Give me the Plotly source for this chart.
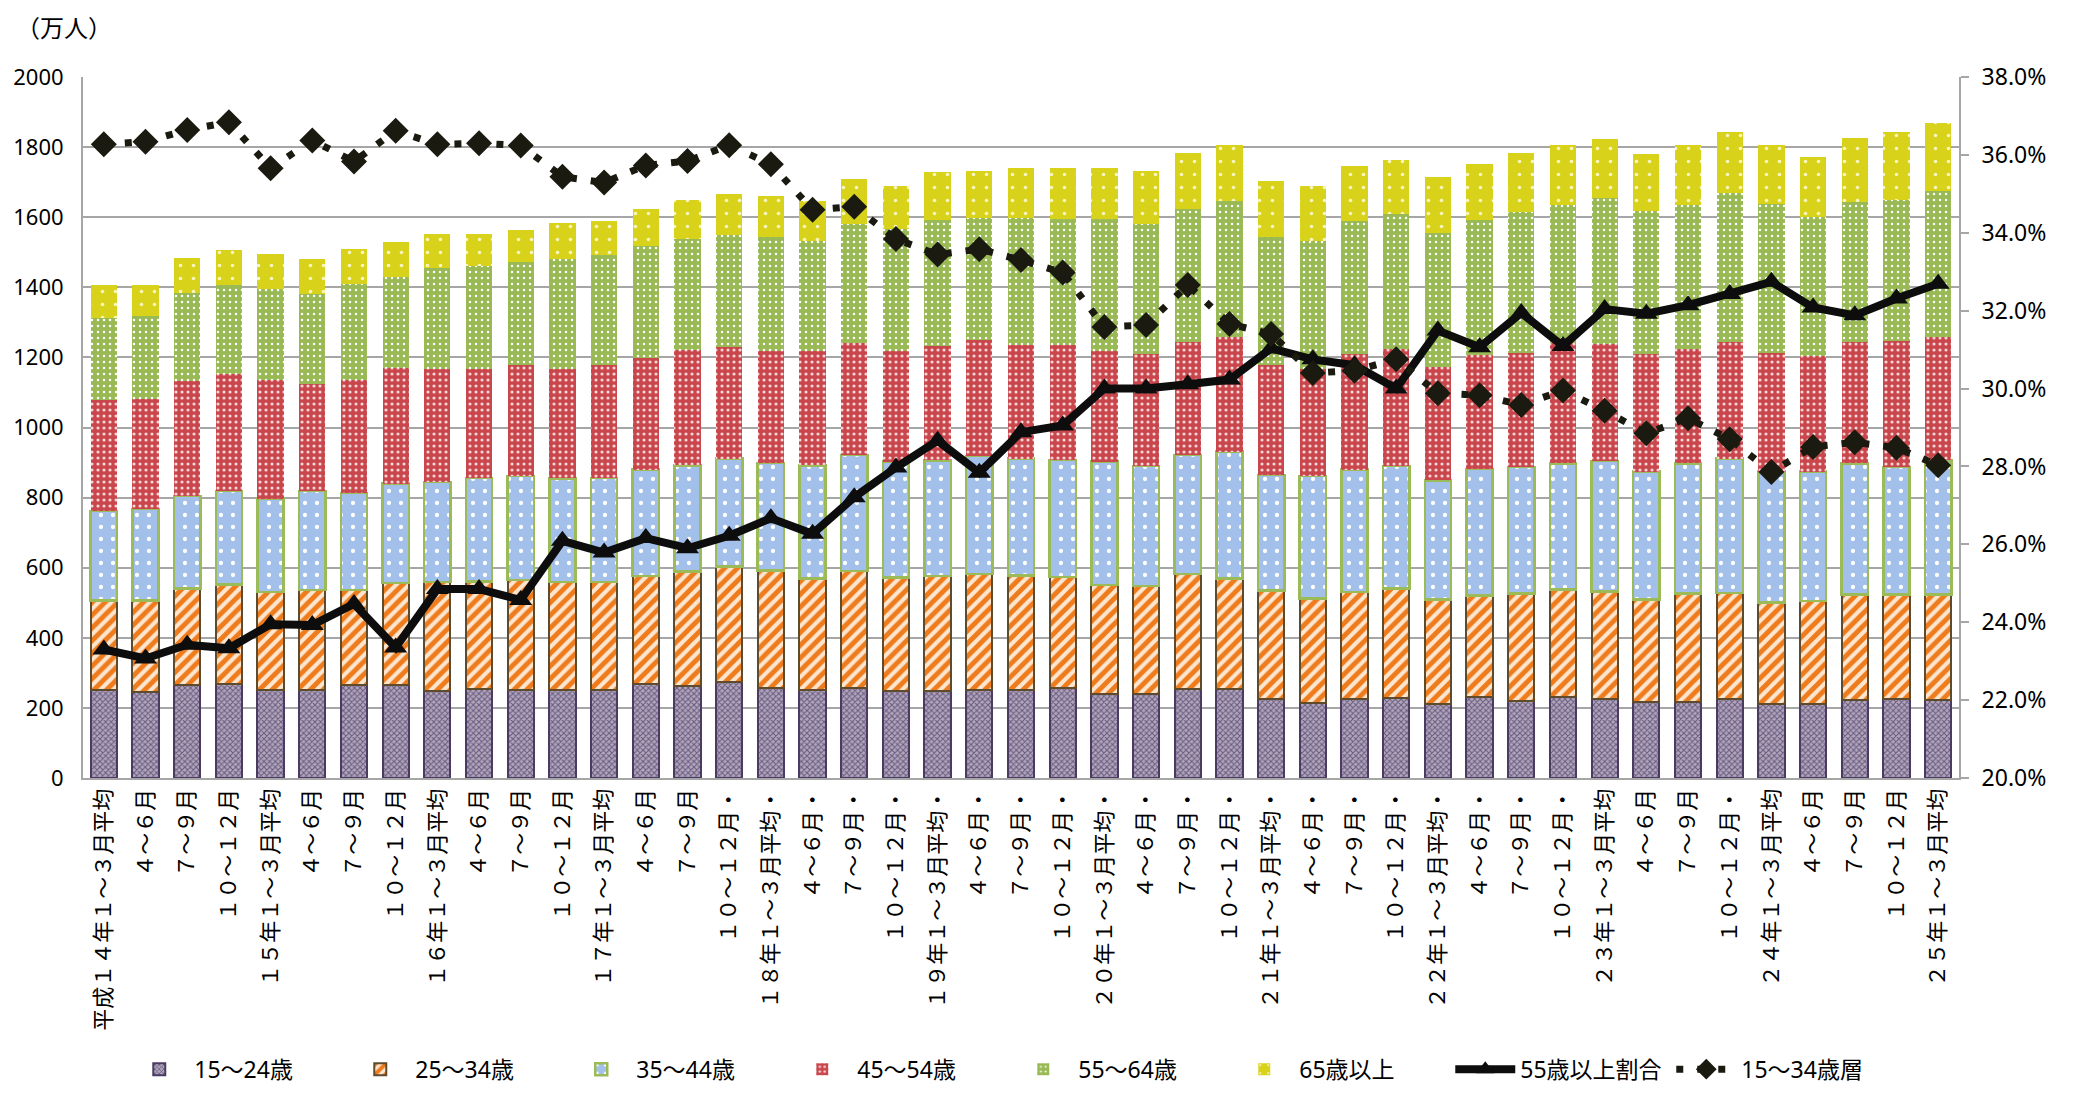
import plotly.graph_objects as go

# ── Category labels (quarterly, 平成14年1～3月 → 平成25年1～3月) ───────────────
LABELS = [
    "平成１４年１～３月平均", "４～６月", "７～９月", "１０～１２月",
    "１５年１～３月平均", "４～６月", "７～９月", "１０～１２月",
    "１６年１～３月平均", "４～６月", "７～９月", "１０～１２月",
    "１７年１～３月平均", "４～６月", "７～９月", "１０～１２月・",
    "１８年１～３月平均・", "４～６月・", "７～９月・", "１０～１２月・",
    "１９年１～３月平均・", "４～６月・", "７～９月・", "１０～１２月・",
    "２０年１～３月平均・", "４～６月・", "７～９月・", "１０～１２月・",
    "２１年１～３月平均・", "４～６月・", "７～９月・", "１０～１２月・",
    "２２年１～３月平均・", "４～６月・", "７～９月・", "１０～１２月・",
    "２３年１～３月平均", "４～６月", "７～９月", "１０～１２月・",
    "２４年１～３月平均", "４～６月", "７～９月", "１０～１２月",
    "２５年１～３月平均",
]

# ── Series values (万人) ──────────────────────────────────────────────────────
AGE_15_24 = [250, 246, 265, 267, 250, 250, 264, 266, 247, 254, 250, 252, 250, 268, 262,
             274, 256, 251, 256, 247, 247, 251, 251, 256, 241, 241, 254, 254, 225, 214,
             224, 228, 212, 232, 221, 232, 225, 218, 216, 225, 210, 212, 223, 225, 223]
AGE_25_34 = [257, 261, 275, 285, 280, 286, 272, 290, 312, 307, 315, 307, 309, 309, 327,
             330, 336, 318, 335, 325, 329, 331, 327, 317, 309, 307, 328, 315, 310, 298,
             307, 312, 297, 289, 305, 306, 307, 291, 310, 303, 291, 293, 300, 298, 300]
AGE_35_44 = [255, 260, 264, 267, 267, 283, 277, 284, 286, 295, 296, 296, 297, 303, 303,
             307, 307, 323, 330, 331, 330, 336, 333, 335, 353, 342, 340, 362, 330, 350,
             349, 350, 340, 361, 361, 360, 373, 365, 372, 383, 373, 369, 375, 364, 383]
AGE_45_54 = [316, 314, 329, 333, 338, 305, 323, 330, 321, 311, 318, 313, 323, 317, 329,
             318, 318, 325, 321, 314, 327, 333, 325, 328, 316, 320, 323, 326, 312, 306,
             329, 335, 325, 325, 325, 342, 333, 337, 327, 334, 338, 330, 347, 361, 353]
AGE_55_64 = [233, 238, 251, 255, 259, 257, 273, 259, 289, 295, 292, 313, 314, 322, 316,
             321, 326, 314, 340, 349, 359, 346, 361, 359, 376, 370, 378, 389, 367, 363,
             380, 383, 382, 386, 402, 395, 417, 407, 410, 423, 426, 397, 399, 400, 417]
AGE_65_OVER = [96, 88, 99, 99, 100, 101, 99, 100, 97, 90, 93, 103, 97, 105, 111,
               117, 118, 116, 126, 124, 137, 135, 142, 146, 146, 152, 159, 159, 159, 159,
               157, 156, 159, 159, 168, 170, 168, 161, 170, 175, 167, 171, 183, 195, 194]

# ── Ratios (%) on the right axis ─────────────────────────────────────────────
RATIO_55_OVER = [23.30, 23.07, 23.42, 23.33, 23.95, 23.93, 24.47, 23.35, 24.85, 24.85,
                 24.57, 26.09, 25.79, 26.16, 25.90, 26.22, 26.67, 26.27, 27.21, 27.97,
                 28.66, 27.84, 28.88, 29.05, 30.00, 30.00, 30.11, 30.23, 31.03, 30.75,
                 30.60, 30.00, 31.49, 31.06, 31.94, 31.09, 32.04, 31.92, 32.14, 32.43,
                 32.74, 32.08, 31.88, 32.31, 32.69]
RATIO_15_34 = [36.27, 36.34, 36.64, 36.84, 35.66, 36.37, 35.83, 36.62, 36.27, 36.30,
               36.24, 35.44, 35.29, 35.73, 35.84, 36.25, 35.76, 34.59, 34.67, 33.84,
               33.44, 33.58, 33.30, 32.98, 31.58, 31.63, 32.66, 31.66, 31.40, 30.40,
               30.46, 30.75, 29.88, 29.83, 29.58, 29.95, 29.43, 28.85, 29.24, 28.70,
               27.86, 28.50, 28.62, 28.48, 28.03]

NUM_FONT = "Noto Sans, Noto Sans CJK JP, sans-serif"
JP_FONT = "Noto Sans CJK JP, sans-serif"
GRID = "#a6a6a6"

x = list(range(len(LABELS)))

# name, values, pattern shape, bg, fg, pattern size, solidity, outline colour, outline width
BAR_STYLE = [
    ("15～24歳", AGE_15_24, "x", "#b1a7bd", "#6a5a7e", 4, 0.45, "#4b3b63", 2),
    ("25～34歳", AGE_25_34, "/", "#fde6d0", "#ee7b1c", 9, 0.55, "#5e4b2c", 2),
    ("35～44歳", AGE_35_44, ".", "#a2c0ea", "#ffffff", 12, 0.1, "#9bbb59", 2.5),
    ("45～54歳", AGE_45_54, ".", "#c9474c", "#f6d6d6", 6, 0.22, None, 0),
    ("55～64歳", AGE_55_64, ".", "#98b954", "#ffffff", 6, 0.14, None, 0),
    ("65歳以上", AGE_65_OVER, ".", "#d8d31a", "#f8f5c0", 13, 0.06, None, 0),
]

fig = go.Figure()

for name, vals, shape, bg, fg, psize, solid, edge, ew in BAR_STYLE:
    fig.add_trace(go.Bar(
        x=x, y=vals, name=name,
        marker=dict(
            color=bg,
            pattern=dict(shape=shape, bgcolor=bg, fgcolor=fg, size=psize,
                         solidity=solid, fillmode="replace"),
            line=dict(color=edge or bg, width=ew),
        ),
    ))

fig.add_trace(go.Scatter(
    x=x, y=RATIO_55_OVER, name="55歳以上割合", yaxis="y2",
    mode="lines+markers",
    line=dict(color="#0d0d0d", width=8),
    marker=dict(symbol="triangle-up", size=20, color="#0d0d0d"),
))
fig.add_trace(go.Scatter(
    x=x, y=RATIO_15_34, name="15～34歳層", yaxis="y2",
    mode="lines+markers",
    line=dict(color="#1a1a10", width=7, dash="7px,14px"),
    marker=dict(symbol="diamond", size=20, color="#1a1a10"),
))

# the page body keeps its default 8px margin, so the figure is sized to fit inside it
fig.update_layout(
    width=2062, height=1084,
    barmode="stack", bargap=0.37,
    paper_bgcolor="white", plot_bgcolor="white",
    margin=dict(l=75, r=111, t=69, b=314),
    font=dict(family=NUM_FONT, size=22, color="#000000"),
    xaxis=dict(
        tickmode="array", tickvals=x, ticktext=LABELS, tickangle=-90,
        tickfont=dict(family=JP_FONT, size=22),
        range=[-0.5, len(LABELS) - 0.5],
        showline=True, linecolor=GRID, linewidth=2, showgrid=False,
        ticks="", automargin=False,
    ),
    yaxis=dict(
        range=[0, 2000], dtick=200, tickformat="d",
        showgrid=True, gridcolor=GRID, gridwidth=1.5,
        showline=True, linecolor=GRID, linewidth=2,
        zeroline=False, ticks="", ticklabelstandoff=13,
        tickfont=dict(size=22), automargin=False,
    ),
    yaxis2=dict(
        range=[20, 38], dtick=2, tickformat=".1f", ticksuffix="%",
        overlaying="y", side="right", showgrid=False,
        showline=True, linecolor=GRID, linewidth=2,
        ticks="outside", ticklen=8, tickcolor=GRID, tickwidth=1.5,
        ticklabelstandoff=8,
        zeroline=False, tickfont=dict(size=23), automargin=False,
    ),
    legend=dict(
        orientation="h", x=0.022, xanchor="left",
        yref="container", y=0.021, yanchor="middle",
        entrywidth=146, entrywidthmode="pixels", itemwidth=60,
        font=dict(family=NUM_FONT, size=23), traceorder="normal",
    ),
    annotations=[dict(
        text="（万人）", xref="paper", yref="paper", x=-0.037, y=1.072,
        xanchor="left", yanchor="middle", showarrow=False,
        font=dict(family=JP_FONT, size=24),
    )],
)

fig.write_html("out.html")
